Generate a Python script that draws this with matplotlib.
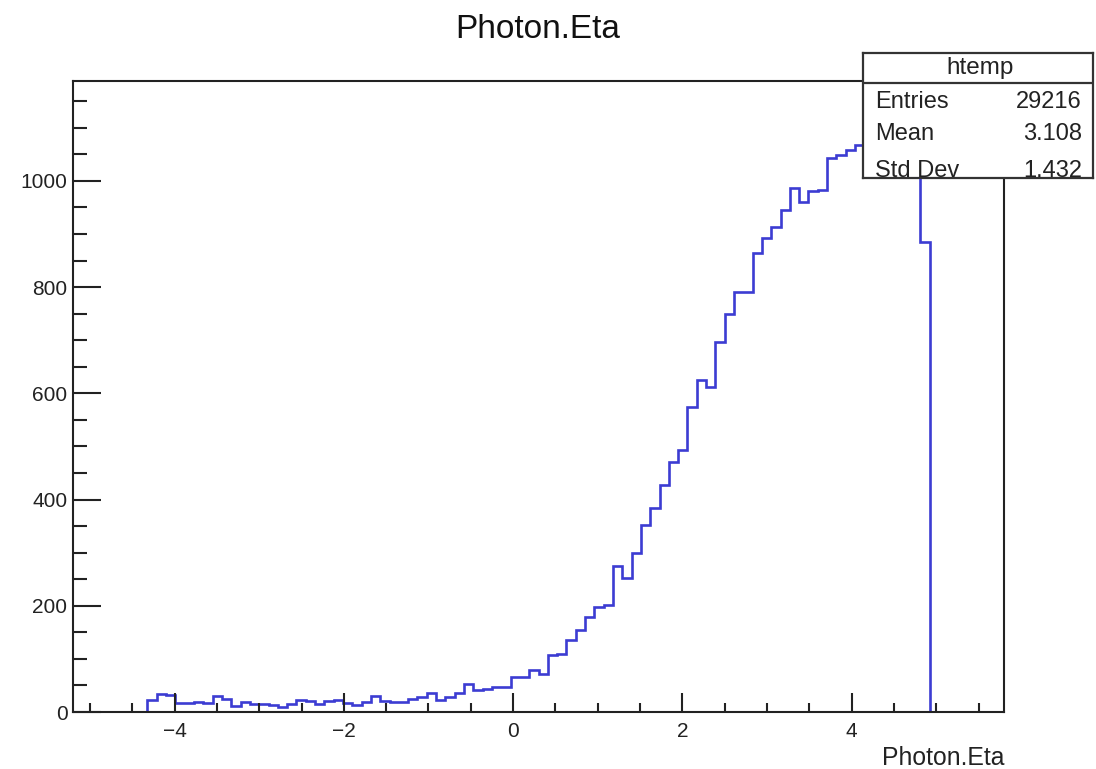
import numpy as np
import matplotlib.pyplot as plt

plt.rcParams['font.family'] = ['Liberation Sans', 'DejaVu Sans']

title = 'Photon.Eta'
x_label = 'Photon.Eta'
hist_name = 'htemp'

# histogram: 0.11 wide bins, first non-empty bin starts at -4.32
first_edge = -4.32
bin_width = 0.11
counts = [22, 34, 32, 17, 17, 18, 17, 30, 24, 12,
          18, 16, 15, 13, 10, 15, 22, 20, 16, 20,
          22, 17, 13, 19, 30, 20, 19, 19, 24, 29,
          36, 22, 29, 36, 53, 41, 44, 48, 48, 66,
          66, 79, 72, 107, 110, 136, 155, 178, 198, 201,
          274, 252, 299, 352, 384, 427, 471, 493, 575, 625,
          612, 697, 750, 791, 791, 864, 893, 914, 945, 987,
          961, 980, 982, 1043, 1049, 1058, 1068, 1075, 1090, 1100,
          1115, 1130, 1120, 885]

stat_names = ['Entries', 'Mean', 'Std Dev']
stat_values = ['29216', '3.108', '1.432']

x_ticks = [-4, -2, 0, 2, 4]
y_ticks = [0, 200, 400, 600, 800, 1000]

W, H = 1096, 769
fig = plt.figure(figsize=(W / 100, H / 100), dpi=100)
fig.patch.set_facecolor('white')

# frame in pixels: left 73, right 1004, top 81, bottom 712
ax = fig.add_axes([73 / W, 1 - 712 / H, (1004 - 73) / W, (712 - 81) / H])

edges = first_edge + bin_width * np.arange(len(counts) + 1)
ax.stairs(counts, edges, baseline=0, color='#3c3cd2', linewidth=1.9)

ax.set_xlim(-5.2, 5.8)
ax.set_ylim(0, 1188)

ax.set_xticks(x_ticks)
ax.set_xticks(np.arange(-5, 5.6, 0.5), minor=True)
ax.set_yticks(y_ticks)
ax.set_yticks(np.arange(0, 1151, 50), minor=True)

ax.tick_params(axis='both', which='both', direction='in', top=False, right=False,
               colors='#222222', width=1.5)
ax.tick_params(axis='x', which='major', length=13.7, labelsize=15, pad=7)
ax.tick_params(axis='x', which='minor', length=6.8)
ax.tick_params(axis='y', which='major', length=20, labelsize=15, pad=4)
ax.tick_params(axis='y', which='minor', length=10)
for s in ax.spines.values():
    s.set_linewidth(1.5)
    s.set_color('#222222')

fig.text(538 / W, 1 - 30 / H, title, ha='center', va='center', fontsize=24, color='#111111')
fig.text(1004 / W, 1 - 758 / H, x_label, ha='right', va='center', fontsize=17.8, color='#222222')

# stats box
bx0, bx1, by0, by1 = 862.7, 1092.7, 52.7, 178.3
box = fig.add_axes([bx0 / W, 1 - by1 / H, (bx1 - bx0) / W, (by1 - by0) / H], zorder=5)
box.set_facecolor('white')
box.set_xticks([])
box.set_yticks([])
box.set_xlim(0, 1)
box.set_ylim(0, 1)
for s in box.spines.values():
    s.set_linewidth(1.6)
    s.set_color('#333333')
box.axhline((by1 - 82.7) / (by1 - by0), color='#333333', linewidth=1.6)
box.text(0.51, (by1 - 68) / (by1 - by0), hist_name, ha='center', va='center',
         fontsize=17.5, color='#222222')
rows_y = [102.5, 134, 171]
for name, val, yy in zip(stat_names, stat_values, rows_y):
    yf = (by1 - yy) / (by1 - by0)
    t1 = box.text(0.053, yf, name, ha='left', va='center', fontsize=17, color='#222222')
    t2 = box.text(0.953, yf, val, ha='right', va='center', fontsize=17, color='#222222')
    for t in (t1, t2):
        t.set_clip_on(True)
        t.set_clip_box(box.bbox)

fig.savefig('out.png', dpi=100)
